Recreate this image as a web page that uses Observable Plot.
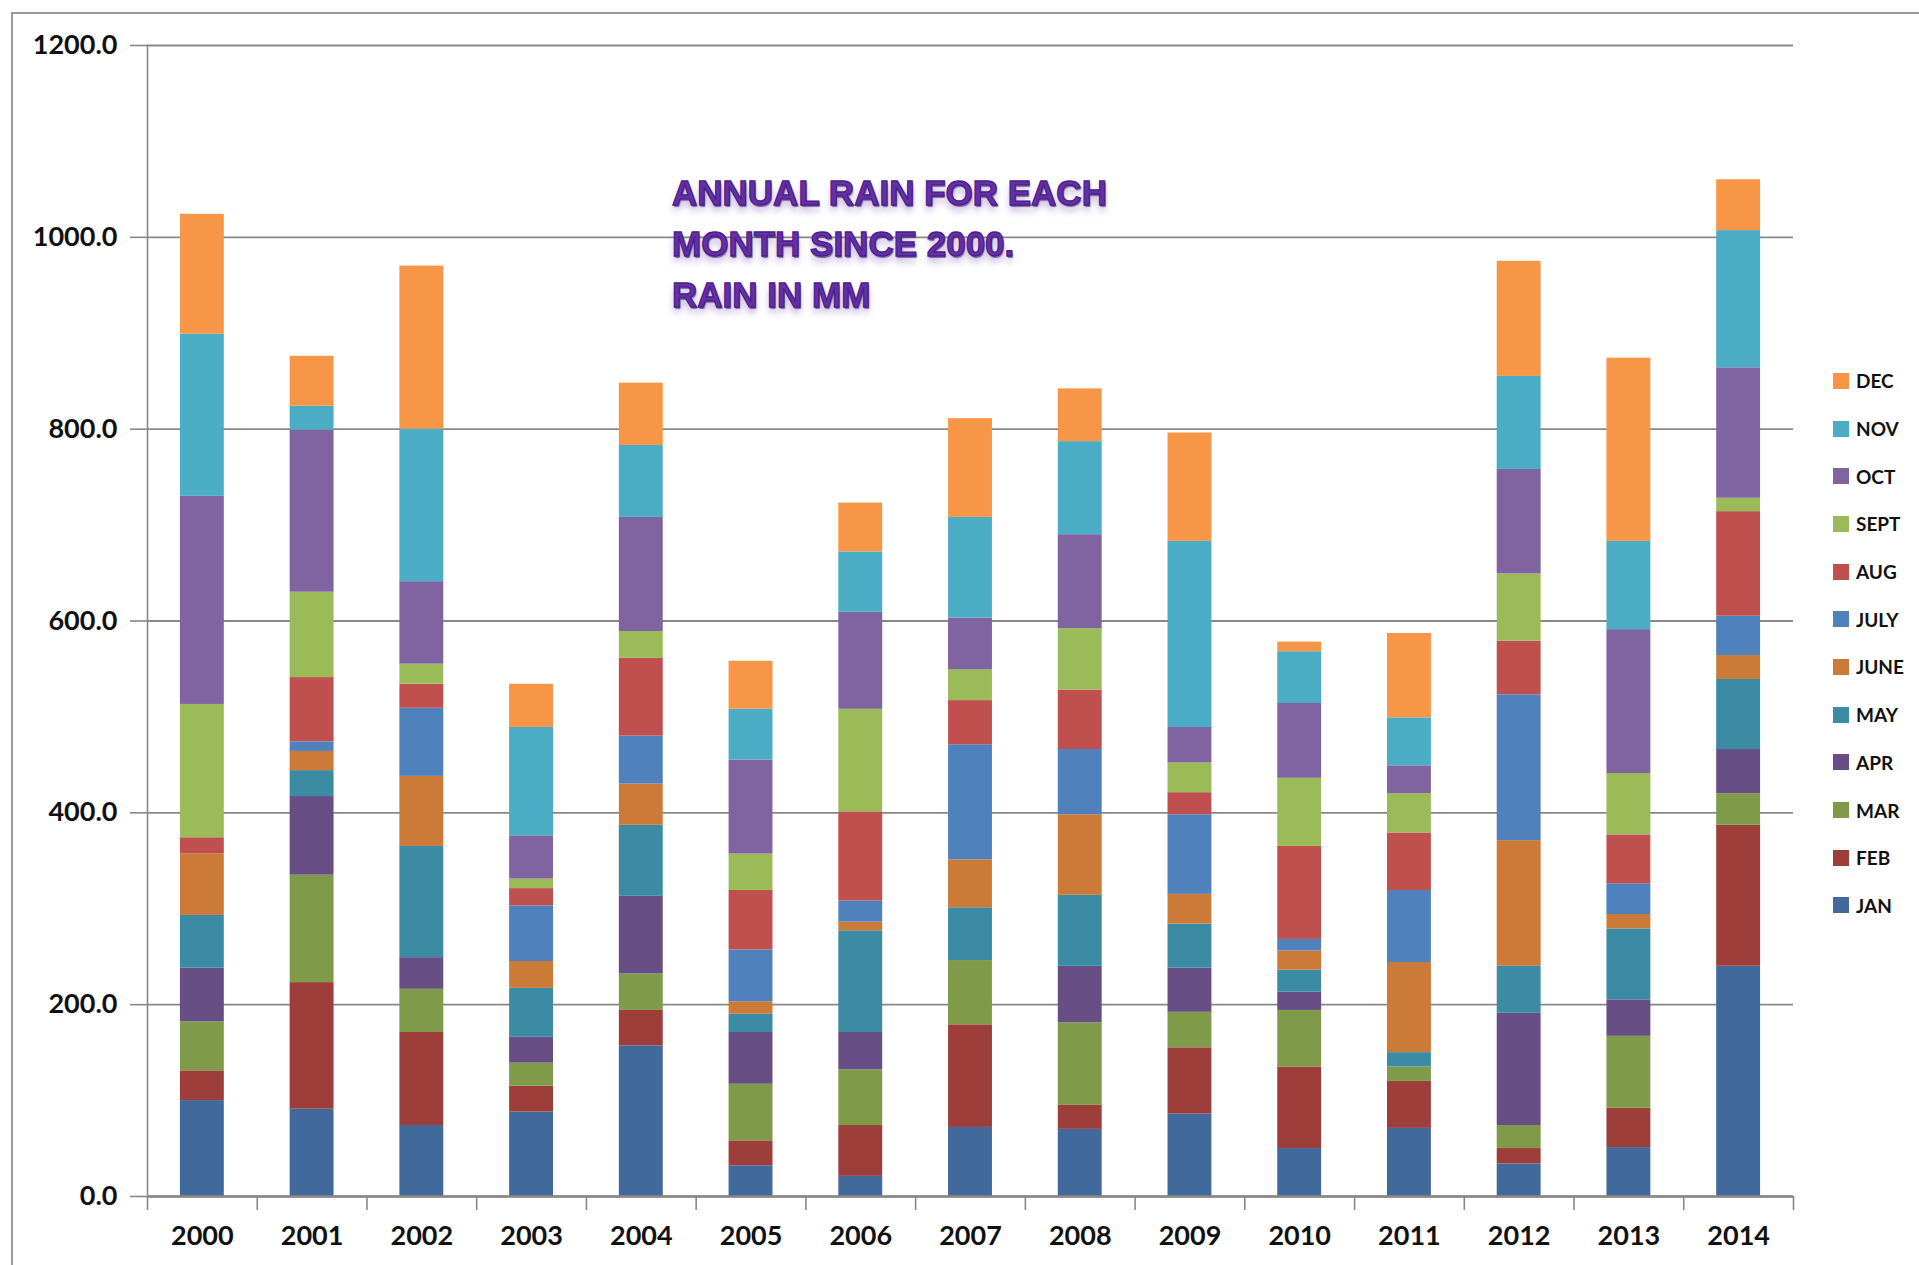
<!DOCTYPE html>
<html><head><meta charset="utf-8">
<script src="https://cdn.jsdelivr.net/npm/d3@7"></script>
<script src="https://cdn.jsdelivr.net/npm/@observablehq/plot@0.6"></script>
<style>
html,body{margin:0;padding:0;background:#fff;overflow:hidden}
#wrap{position:relative;width:1919px;height:1265px}
#border{position:absolute;left:11px;top:12px;right:-10px;bottom:-10px;border-top:2px solid #9a9a9a;border-left:2px solid #9a9a9a;pointer-events:none}
#chart{position:absolute;left:0;top:0}
#title{position:absolute;left:672px;top:167px;font:bold 35px "Liberation Sans",sans-serif;line-height:51px;color:#6330a8;
  -webkit-text-stroke:1.3px #4a2088;text-shadow:1px 2px 1px rgba(60,25,110,0.6),0 6px 7px rgba(120,80,180,0.45);white-space:nowrap}
#legend{position:absolute;left:1833px;top:357px;font:bold 19px Lato,sans-serif;color:#111}
#legend .item{display:flex;align-items:center;height:47.7px}
#legend .sw{width:16px;height:16px;margin-right:7px}
</style></head>
<body>
<div id="wrap">
  <div id="chart"></div>
  <div id="border"></div>
  <div id="title">ANNUAL RAIN FOR EACH<br>MONTH SINCE 2000.<br>RAIN IN MM</div>
  <div id="legend"></div>
</div>
<script>
const years = ["2000","2001","2002","2003","2004","2005","2006","2007","2008","2009","2010","2011","2012","2013","2014"];
const months = ["JAN","FEB","MAR","APR","MAY","JUNE","JULY","AUG","SEPT","OCT","NOV","DEC"];
const colors = ["#41699c","#9d3e3b","#7f9a48","#674f86","#3a8ba3","#cc7a37","#4f81bd","#c0504d","#9bbb59","#8064a2","#4bacc6","#f79646"];
const yTicks = [0,200,400,600,800,1000,1200];

const jan = [100, 91, 74, 88, 157, 32, 21, 72, 70, 86, 50, 71, 34, 51, 240];
const feb = [31, 132, 97, 27, 37, 26, 53, 107, 25, 69, 85, 49, 16, 41, 147];
const mar = [51, 112, 45, 24, 38, 59, 58, 67, 86, 37, 59, 15, 24, 75, 33];
const apr = [56, 82, 33, 27, 81, 54, 39, 0, 59, 46, 19, 0, 117, 38, 46];
const may = [55, 27, 116, 51, 74, 19, 106, 55, 74, 46, 23, 15, 49, 74, 73];
const jun = [64, 20, 73, 28, 43, 13, 9, 50, 84, 31, 20, 94, 131, 15, 25];
const jul = [0, 10, 71, 58, 50, 54, 22, 120, 68, 83, 12, 75, 152, 32, 41];
const aug = [17, 67, 25, 18, 81, 62, 93, 46, 62, 23, 97, 60, 56, 51, 109];
const sep = [139, 89, 21, 10, 28, 38, 107, 32, 64, 31, 71, 41, 70, 64, 14];
const oct = [217, 169, 86, 45, 119, 98, 101, 54, 98, 37, 78, 29, 109, 150, 136];
const nov = [169, 25, 159, 113, 75, 53, 63, 105, 97, 194, 54, 50, 97, 92, 143];
const dec = [125, 52, 170, 45, 65, 50, 51, 103, 55, 113, 10, 88, 120, 191, 53];

const series = [jan, feb, mar, apr, may, jun, jul, aug, sep, oct, nov, dec];
const data = [];
years.forEach((yr, i) => months.forEach((m, j) => data.push({year: yr, month: m, rain: series[j][i]})));

const W = 1919, H = 1265, mL = 147, mR = 126, mT = 45, mB = 69;
const step = (W - mL - mR) / years.length;
const gray = "#888888";

const chart = Plot.plot({
  width: W, height: H,
  marginLeft: mL, marginRight: mR, marginTop: mT, marginBottom: mB,
  style: {fontFamily: "Lato, sans-serif", fontWeight: "bold", color: "#111", background: "transparent", overflow: "visible"},
  x: {domain: years, paddingInner: 0.6, paddingOuter: 0.3, round: false, label: null},
  y: {domain: [0, 1200], label: null},
  color: {domain: months, range: colors},
  marks: [
    Plot.gridY(yTicks, {stroke: gray, strokeOpacity: 1, strokeWidth: 1.8}),
    Plot.barY(data, {x: "year", y: "rain", fill: "month"}),
    Plot.frame({anchor: "left", stroke: gray, strokeWidth: 1.6}),
    Plot.ruleY([0], {stroke: gray, strokeWidth: 2.5}),
    Plot.axisY(yTicks, {tickSize: 17, tickPadding: 13, tickFormat: d => d.toFixed(1), stroke: gray, strokeWidth: 1.6, fontSize: 27, label: null}),
    Plot.axisX({tickSize: 0, tickPadding: 29, fontSize: 27, label: null}),
    Plot.axisX({tickSize: 14, tickFormat: () => "", dx: -step / 2, stroke: gray, strokeWidth: 1.6, label: null}),
    Plot.axisX([years[years.length - 1]], {tickSize: 14, tickFormat: () => "", dx: step / 2, stroke: gray, strokeWidth: 1.6, label: null})
  ]
});
document.getElementById("chart").append(chart);

const legend = document.getElementById("legend");
months.slice().reverse().forEach(m => {
  const it = document.createElement("div");
  it.className = "item";
  const sw = document.createElement("span");
  sw.className = "sw";
  sw.style.background = colors[months.indexOf(m)];
  const tx = document.createElement("span");
  tx.textContent = m;
  it.append(sw, tx);
  legend.append(it);
});
</script>
</body></html>
